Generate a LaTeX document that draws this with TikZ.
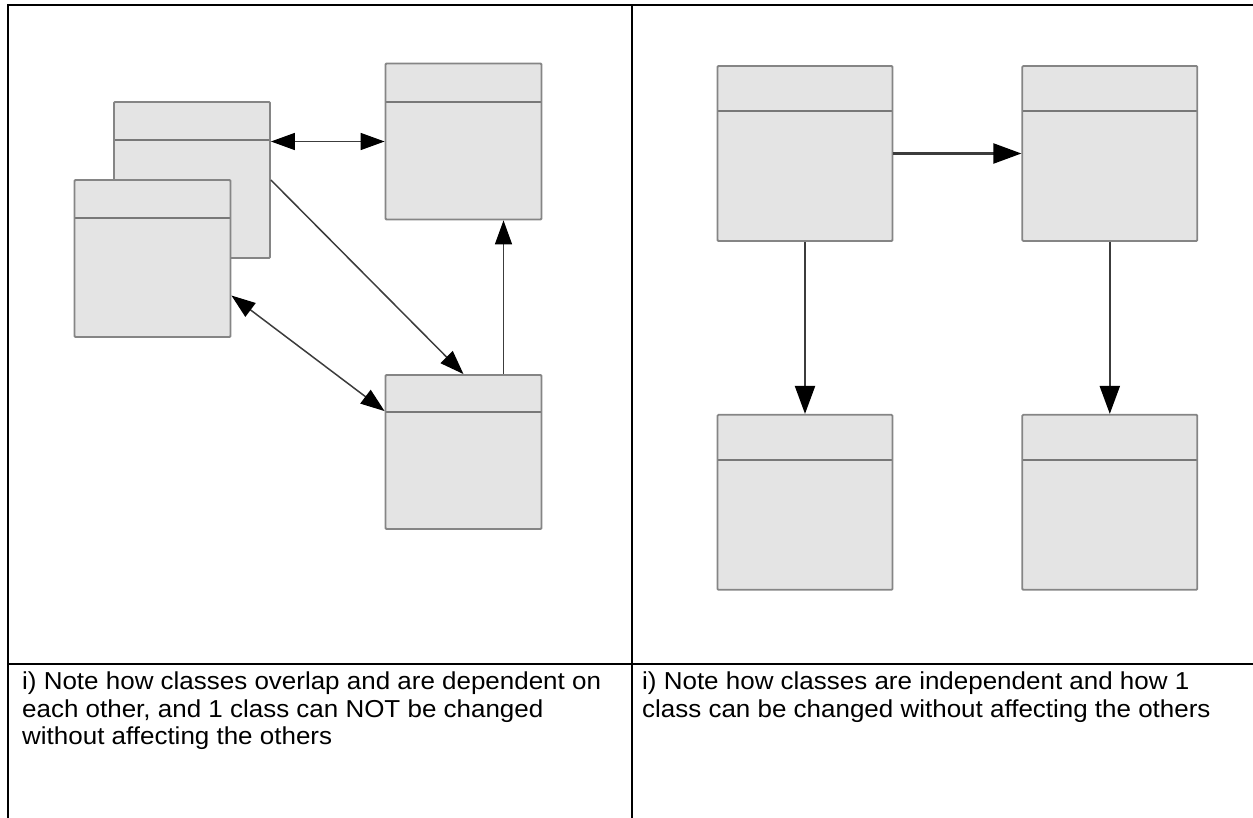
\documentclass[tikz,border=0pt]{standalone}
\usepackage{fontspec}
\setmainfont{Liberation Sans}[FakeStretch=1.06]
\usetikzlibrary{positioning,arrows.meta}
\definecolor{classFill}{HTML}{E4E4E4}
\definecolor{classEdge}{HTML}{858585}
\definecolor{linkInk}{HTML}{3C3C3C}
\tikzset{
  classbox/.style={draw=classEdge,fill=classFill,line width=1.8pt,rounded corners=1pt,
    inner sep=0pt,
    path picture={\draw[draw=classEdge!90!black,line width=2pt]
      ([yshift=-#1]path picture bounding box.north west) --
      ([yshift=-#1]path picture bounding box.north east);}},
  smallclass/.style={classbox=38.5pt,minimum size=156pt},
  bigclass/.style={classbox=45pt,minimum size=175pt},
  linkarrow/.style={-{Triangle[length=24pt,width=17pt,color=black]},line width=1.5pt,draw=linkInk},
  duallink/.style={{Triangle[length=24pt,width=17pt,color=black]}-{Triangle[length=24pt,width=17pt,color=black]},
    line width=1.5pt,draw=linkInk},
  bigarrow/.style={-{Triangle[length=28pt,width=20pt,color=black]},line width=2.2pt,draw=linkInk},
  tableline/.style={line width=2pt,draw=black},
  notetext/.style={align=left,inner sep=0pt,anchor=north west,
    font=\fontsize{24.5}{27.2}\selectfont}
}

\begin{document}
\begin{tikzpicture}[x=1pt,y=-1pt]
  \useasboundingbox (0,0) rectangle (1253,818);
  % table frame
  \draw[tableline] (7.5,818) -- (7.5,5.5) -- (1253,5.5);
  \draw[tableline] (632,5.5) -- (632,818);
  \draw[tableline] (7.5,664) -- (1253,664);

  % left: tangled classes
  \node[smallclass] (back) at (192,180) {};
  \node[smallclass,minimum height=157pt] (front) at (152.5,258.5) {};
  \node[smallclass] (upper) at (463.5,141.5) {};
  \node[smallclass,classbox=37pt,minimum height=154pt] (lower) at (463.5,452) {};
  \draw[duallink] (back.east |- upper.west) -- (upper.west);
  \draw[linkarrow] (back.east) -- (lower.north);
  \draw[linkarrow] ([xshift=40pt]lower.north) -- ([xshift=40pt]lower.north |- upper.south);
  \draw[duallink] ([yshift=-37pt]front.east) -- ([yshift=-37pt]lower.north west);

  % right: independent classes
  \node[bigclass] (first) at (805,153.5) {};
  \node[bigclass,right=128pt of first] (second) {};
  \node[bigclass,below=172pt of first] (third) {};
  \node[bigclass,below=172pt of second] (fourth) {};
  \draw[bigarrow] (first.east) -- (second.west);
  \draw[bigarrow] (first.south) -- (third.north);
  \draw[bigarrow] (second.south) -- (fourth.north);

  % notes
  \node[notetext] (leftnote) at (22,672)
    {i) Note how classes overlap and are dependent on\\
     each other, and 1 class can NOT be changed\\
     without affecting the others};
  \node[notetext] (rightnote) at (642,672)
    {i) Note how classes are independent and how 1\\
     class can be changed without affecting the others};
\end{tikzpicture}
\end{document}
